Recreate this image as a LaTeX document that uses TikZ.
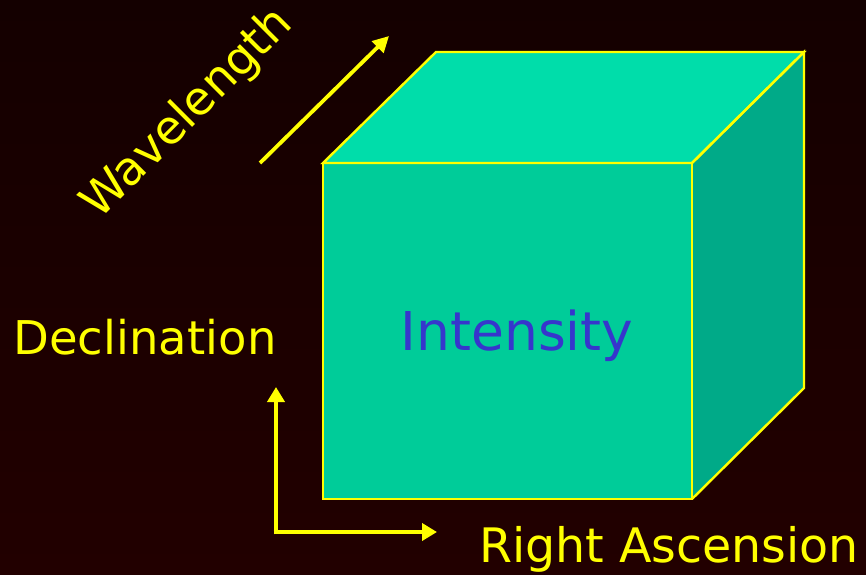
\documentclass[tikz,border=0pt]{standalone}
\usepackage{fontspec}
\setmainfont{DejaVu Sans}
\usetikzlibrary{arrows.meta}
\definecolor{bgtop}{HTML}{140000}
\definecolor{bgbot}{HTML}{220000}
\definecolor{topface}{HTML}{00DDAA}
\definecolor{frontface}{HTML}{00CC99}
\definecolor{sideface}{HTML}{00AA88}
\definecolor{ylw}{HTML}{FFFF00}
\definecolor{intblue}{HTML}{3636CC}
\tikzset{
  face/.style={draw=ylw, line width=2.4pt, line join=miter},
  axis/.style={draw=ylw, line width=4.8pt, -{Triangle[length=15pt,width=17pt]}},
  diagaxis/.style={draw=ylw, line width=3.8pt, -{Triangle[length=16pt,width=16pt]}},
  lab/.style={text=ylw, inner sep=0pt, font=\fontsize{46.5}{50}\selectfont},
}
\begin{document}
\begin{tikzpicture}[x=1pt,y=-1pt]
  \shade[top color=bgtop, bottom color=bgbot] (0,0) rectangle (866,574);
  \useasboundingbox (0,0) rectangle (866,574);
  % cube corners
  \coordinate (ftl) at (323,163);
  \coordinate (ftr) at (692,163);
  \coordinate (fbr) at (692,499);
  \coordinate (fbl) at (323,499);
  \coordinate (btl) at (436,52);
  \coordinate (btr) at (804,52);
  \coordinate (bbr) at (804,388);
  \fill[topface] (ftl) -- (btl) -- (btr) -- (ftr) -- cycle;
  \fill[sideface] (ftr) -- (btr) -- (bbr) -- (fbr) -- cycle;
  \fill[frontface] (ftl) rectangle (fbr);
  \draw[face] (ftl) -- (btl) -- (btr) -- (ftr) -- cycle;
  \draw[face] (ftr) -- (btr) -- (bbr) -- (fbr);
  \draw[face] (ftl) rectangle (fbr);
  % axes
  \coordinate (corner) at (276,532);
  \coordinate (decTip) at (276,387);
  \coordinate (raTip) at (437,532);
  \coordinate (wlStart) at (260,163);
  \coordinate (wlTip) at (389,36);
  \draw[axis] ([yshift=-2.4pt]corner) -- (decTip);
  \draw[axis] ([xshift=-2.4pt]corner) -- (raTip);
  \draw[diagaxis] (wlStart) -- (wlTip);
  % labels
  \node[lab, anchor=base] (dec) at (145,354) {Declination};
  \node[lab, anchor=base, font=\fontsize{47.5}{51}\selectfont] (ra) at (669,562) {Right Ascension};
  \node[lab, anchor=center, rotate=45] (wl) at (188,114) {Wavelength};
  \node[text=intblue, inner sep=0pt, anchor=base, font=\fontsize{53.5}{58}\selectfont] (int) at (517,350) {Intensity};
\end{tikzpicture}
\end{document}
